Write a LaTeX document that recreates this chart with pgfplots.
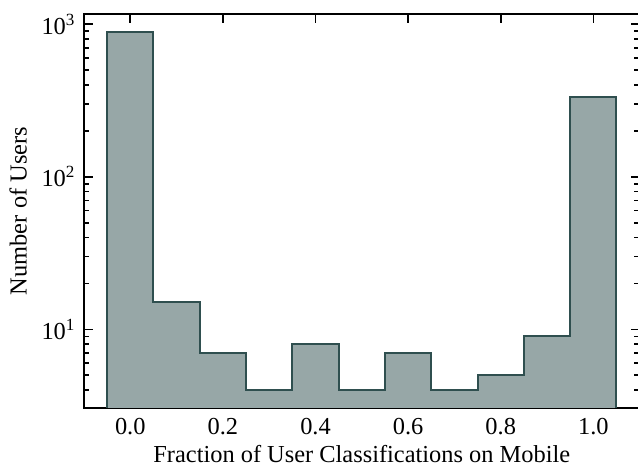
\documentclass[border=0pt]{standalone}
\usepackage{pgfplots}
\pgfplotsset{compat=1.18}
\usepackage{fontspec}
\setmainfont{Liberation Serif}
\definecolor{barfill}{RGB}{151,167,167}
\definecolor{baredge}{RGB}{47,79,79}
\begin{document}
\fontsize{12.2}{14.5}\selectfont
\begin{tikzpicture}
\begin{axis}[
  name=ax,
  scale only axis,
  width=277.8pt, height=197pt,
  xmin=-0.1, xmax=1.1,
  ymode=log, log basis y=10,
  ymin=3.05, ymax=1168,
  xtick={0,0.2,0.4,0.6,0.8,1.0},
  xticklabels={0.0,0.2,0.4,0.6,0.8,1.0},
  ytick={10,100,1000},
  yticklabels={10\textsuperscript{1},10\textsuperscript{2},10\textsuperscript{3}},
  minor ytick={4,5,6,7,8,9,20,30,40,50,60,70,80,90,200,300,400,500,600,700,800,900},
  minor x tick num=0,
  tick align=inside,
  xtick pos=both, ytick pos=both,
  major tick length=4.5pt,
  minor tick length=2.6pt,
  every tick/.style={black, line width=0.8pt},
  axis line style={line width=1pt},
  /pgf/number format/assume math mode=true,
  tick label style={font=\fontsize{12.2}{14.5}\selectfont},
  label style={font=\fontsize{12.2}{14.5}\selectfont},
  xlabel={Fraction of User Classifications on Mobile},
  ylabel={Number of Users},
  xticklabel style={yshift=-1pt},
  xlabel style={yshift=3pt},
  ylabel style={yshift=-1pt},
]
\addplot[const plot, fill=barfill, draw=baredge, line width=1pt] coordinates {
  (-0.05,1) (-0.05,890) (0.05,15) (0.15,7) (0.25,4) (0.35,8) (0.45,4)
  (0.55,7) (0.65,4) (0.75,5) (0.85,9) (0.95,335) (1.05,335) (1.05,1)
};
\end{axis}
\pgfresetboundingbox
\path[use as bounding box] ([xshift=-42pt,yshift=-30.5pt]ax.south west) rectangle ([xshift=-0.8pt,yshift=7pt]ax.north east);
\end{tikzpicture}
\end{document}
